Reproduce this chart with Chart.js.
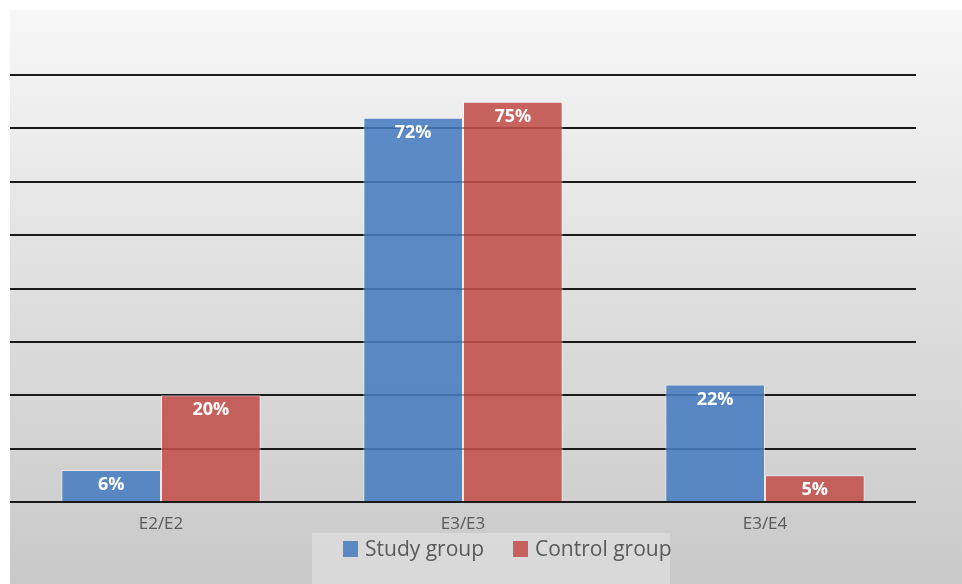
<!DOCTYPE html>
<html>
<head>
<meta charset="utf-8">
<script src="https://cdn.jsdelivr.net/npm/chart.js@4.4.1/dist/chart.umd.min.js"></script>
<style>
  html, body { margin: 0; padding: 0; background: #fff; }
  #wrap { position: relative; width: 962px; height: 584px; }
  #legend {
    position: absolute; left: 312px; top: 533px; width: 358px; height: 51px;
    background: rgba(236,236,236,0.45);
    font-family: "Open Sans", sans-serif; font-size: 21px; color: #595959;
  }
  #legend span.item { position: absolute; top: 1px; white-space: nowrap; }
  #legend i { display: inline-block; width: 15px; height: 16px; vertical-align: -1px; margin-right: 7px; }
</style>
</head>
<body>
<div id="wrap">
  <canvas id="genotypeChart" width="962" height="584"></canvas>
  <div id="legend"></div>
</div>
<script>
const categories = ['E2/E2', 'E3/E3', 'E3/E4'];
const studyGroup = [6, 72, 22];
const controlGroup = [20, 75, 5];
const yTicks = [0, 10, 20, 30, 40, 50, 60, 70, 80];

const blue = 'rgba(72,124,192,0.88)';
const red = 'rgba(194,78,75,0.88)';

// grey gradient panel behind the plot
const panelBackground = {
    id: 'panelBackground',
    beforeDraw(chart) {
        const ctx = chart.ctx;
        ctx.save();
        ctx.fillStyle = '#fff';
        ctx.fillRect(0, 0, chart.width, chart.height);
        const g = ctx.createLinearGradient(0, 10, 0, chart.height);
        g.addColorStop(0, '#f7f7f7');
        g.addColorStop(0.5, '#dedede');
        g.addColorStop(1, '#c9c9c9');
        ctx.fillStyle = g;
        ctx.fillRect(10, 10, chart.width - 10, chart.height - 10);
        ctx.restore();
    }
};

// white percentage labels inside the top of each bar
const barLabels = {
    id: 'barLabels',
    afterDatasetsDraw(chart) {
        const ctx = chart.ctx;
        ctx.save();
        ctx.font = 'bold 18px "Open Sans", sans-serif';
        ctx.fillStyle = '#fff';
        ctx.textAlign = 'center';
        ctx.textBaseline = 'middle';
        chart.data.datasets.forEach((ds, i) => {
            chart.getDatasetMeta(i).data.forEach((bar, j) => {
                ctx.fillText(ds.data[j] + '%', bar.x, bar.y + 15);
            });
        });
        ctx.restore();
    }
};

const chart = new Chart(document.getElementById('genotypeChart'), {
    type: 'bar',
    data: {
        labels: categories,
        datasets: [
            { label: 'Study group', data: studyGroup, backgroundColor: blue },
            { label: 'Control group', data: controlGroup, backgroundColor: red }
        ]
    },
    options: {
        responsive: false,
        animation: false,
        datasets: {
            bar: {
                categoryPercentage: 0.66,
                barPercentage: 1,
                borderColor: 'rgba(255,255,255,0.55)',
                borderWidth: 1
            }
        },
        layout: { padding: { left: 10, right: 46, top: 75, bottom: 0 } },
        plugins: {
            legend: { display: false },
            tooltip: { enabled: false }
        },
        scales: {
            x: {
                grid: { display: false },
                border: { display: false },
                ticks: {
                    color: '#595959',
                    padding: 4,
                    font: { family: '"Open Sans", sans-serif', size: 17 }
                },
                afterFit(scale) { scale.height = 82; }
            },
            y: {
                min: 0,
                max: 80,
                afterBuildTicks(scale) { scale.ticks = yTicks.map(v => ({ value: v })); },
                ticks: { display: false },
                border: { display: false },
                grid: { color: '#1a1a1a', lineWidth: 2, drawTicks: false }
            }
        }
    },
    plugins: [panelBackground, barLabels]
});

// legend as html
const legend = document.getElementById('legend');
const legendPos = [31, 201];
chart.data.datasets.forEach((ds, i) => {
    const item = document.createElement('span');
    item.className = 'item';
    item.style.left = legendPos[i] + 'px';
    item.innerHTML = '<i style="background:' + ds.backgroundColor + '"></i>' + ds.label;
    legend.appendChild(item);
});
</script>
</body>
</html>
